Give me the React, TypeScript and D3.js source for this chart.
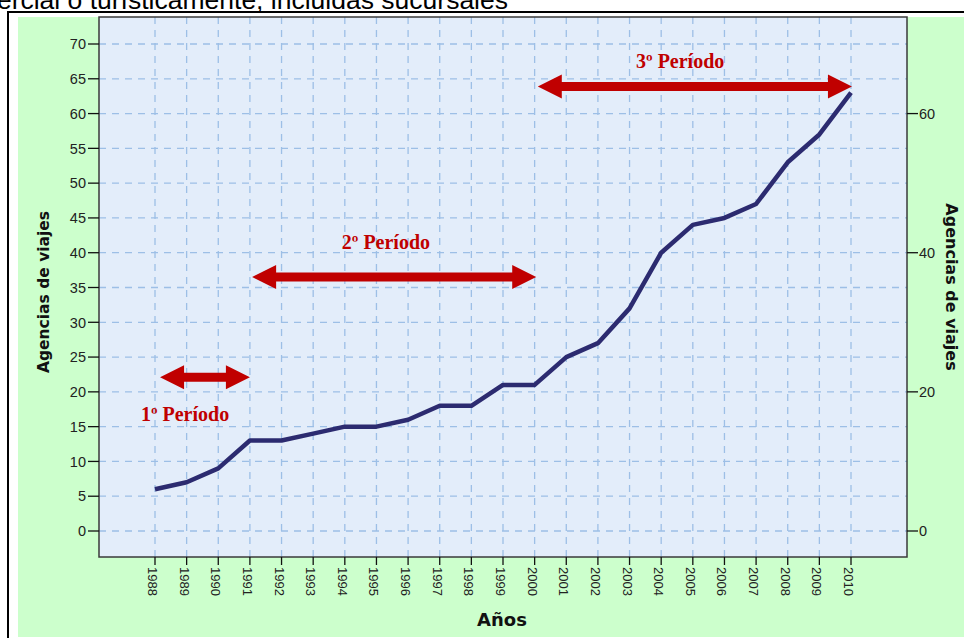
import React from "react";
import * as d3 from "d3";

const years = [1988,1989,1990,1991,1992,1993,1994,1995,1996,1997,1998,1999,2000,2001,2002,2003,2004,2005,2006,2007,2008,2009,2010];
const agencias = [6,7,9,13,13,14,15,15,16,18,18,21,21,25,27,32,40,44,45,47,53,57,63];
const leftTicks = [0,5,10,15,20,25,30,35,40,45,50,55,60,65,70];
const rightTicks = [0,20,40,60];
const periodLabels = ["1º Período","2º Período","3º Período"];
const arrowFrom = [1988.16, 1991.07, 2000.1];
const arrowTo = [1991.0, 2000.05, 2010.03];
const arrowLevel = [22.1, 36.5, 63.9];
const labelYear = [1988.95, 1995.3, 2004.6];
const labelLevel = [15.8, 40.5, 66.6];

const W = 964, H = 638;
const plot = { l: 99, r: 907, t: 17, b: 557 };

export default function App() {
  const x = d3.scaleLinear().domain([1988 - 1.77, 2010 + 1.77]).range([plot.l, plot.r]);
  const y = d3.scaleLinear().domain([0, 70]).range([531, 44]);
  const line = d3.line<number>().x((_, i) => x(years[i])).y((d) => y(d)).curve(d3.curveLinear);
  const red = "#C00000";
  const gridColor = "#9DBFE6";
  const axisFont = "'Liberation Sans', Arial, sans-serif";

  const arrowPath = (x1: number, x2: number, yy: number) => {
    const hl = 24, hh = 12, st = 4.5;
    return `M${x1},${yy} L${x1 + hl},${yy - hh} L${x1 + hl},${yy - st} L${x2 - hl},${yy - st} L${x2 - hl},${yy - hh} L${x2},${yy} L${x2 - hl},${yy + hh} L${x2 - hl},${yy + st} L${x1 + hl},${yy + st} L${x1 + hl},${yy + hh} Z`;
  };

  return (
    <svg width={W} height={H} style={{ position: "absolute", left: 0, top: 0 }} xmlns="http://www.w3.org/2000/svg">
      <rect x={0} y={0} width={W} height={H} fill="#ffffff" />
      <text x={508} y={9} textAnchor="end" fontFamily={axisFont} fontSize={26.5} fill="#000">ercial o turísticamente, incluidas sucursales</text>
      <rect x={18} y={17} width={W - 18} height={620} fill="#CCFFCC" />
      <line x1={7} x2={W} y1={12} y2={12} stroke="#000" strokeWidth={2} />
      <line x1={8} x2={8} y1={11} y2={H} stroke="#000" strokeWidth={2} />
      <rect x={plot.l} y={plot.t} width={plot.r - plot.l} height={plot.b - plot.t} fill="#E3EDFA" />
      {/* grid */}
      {leftTicks.map((v) => (
        <line key={"h" + v} x1={plot.l} x2={plot.r} y1={y(v)} y2={y(v)} stroke={gridColor} strokeWidth={1.3} strokeDasharray="7,6" />
      ))}
      {years.map((yr) => (
        <line key={"v" + yr} x1={x(yr)} x2={x(yr)} y1={plot.t} y2={plot.b} stroke={gridColor} strokeWidth={1.3} strokeDasharray="7,6" />
      ))}
      <rect x={plot.l} y={plot.t} width={plot.r - plot.l} height={plot.b - plot.t} fill="none" stroke="#3a3a3a" strokeWidth={1.5} />
      {/* left axis */}
      {leftTicks.map((v) => (
        <g key={"l" + v}>
          <line x1={88} x2={plot.l} y1={y(v)} y2={y(v)} stroke="#111" strokeWidth={1.3} />
          <text x={86} y={y(v)} dy="0.36em" textAnchor="end" fontFamily={axisFont} fontSize={14.5} fill="#222">{v}</text>
        </g>
      ))}
      {/* right axis */}
      {rightTicks.map((v) => (
        <g key={"r" + v}>
          <line x1={plot.r} x2={918} y1={y(v)} y2={y(v)} stroke="#111" strokeWidth={1.3} />
          <text x={919} y={y(v)} dy="0.36em" textAnchor="start" fontFamily={axisFont} fontSize={14.5} fill="#222">{v}</text>
        </g>
      ))}
      {/* bottom axis */}
      {years.map((yr) => (
        <g key={"b" + yr}>
          <line x1={x(yr)} x2={x(yr)} y1={plot.b} y2={565} stroke="#111" strokeWidth={1.3} />
          <text transform={`translate(${x(yr) - 2.5},567) rotate(90)`} dominantBaseline="central" fontFamily={axisFont} fontSize={13} fill="#222">{yr}</text>
        </g>
      ))}
      {/* axis titles */}
      <text x={502} y={626} textAnchor="middle" fontFamily="'DejaVu Sans', Verdana, sans-serif" fontWeight="bold" fontSize={18} fill="#111">Años</text>
      <text transform="translate(44,292) rotate(-90)" textAnchor="middle" dominantBaseline="central" fontFamily="'DejaVu Sans', Verdana, sans-serif" fontWeight="bold" fontSize={15.5} fill="#111">Agencias de viajes</text>
      <text transform="translate(951,287) rotate(90)" textAnchor="middle" dominantBaseline="central" fontFamily="'DejaVu Sans', Verdana, sans-serif" fontWeight="bold" fontSize={16} fill="#111">Agencias de viajes</text>
      {/* data line */}
      <path d={line(agencias) || ""} fill="none" stroke="#2C2B70" strokeWidth={4.5} strokeLinejoin="round" />
      {/* annotations */}
      {periodLabels.map((lab, i) => (
        <g key={lab}>
          <path d={arrowPath(x(arrowFrom[i]), x(arrowTo[i]), y(arrowLevel[i]))} fill={red} />
          <text x={x(labelYear[i])} y={y(labelLevel[i])} textAnchor="middle" fontFamily="'Liberation Serif', 'Times New Roman', serif" fontWeight="bold" fontSize={20} fill={red}>{lab}</text>
        </g>
      ))}
    </svg>
  );
}
